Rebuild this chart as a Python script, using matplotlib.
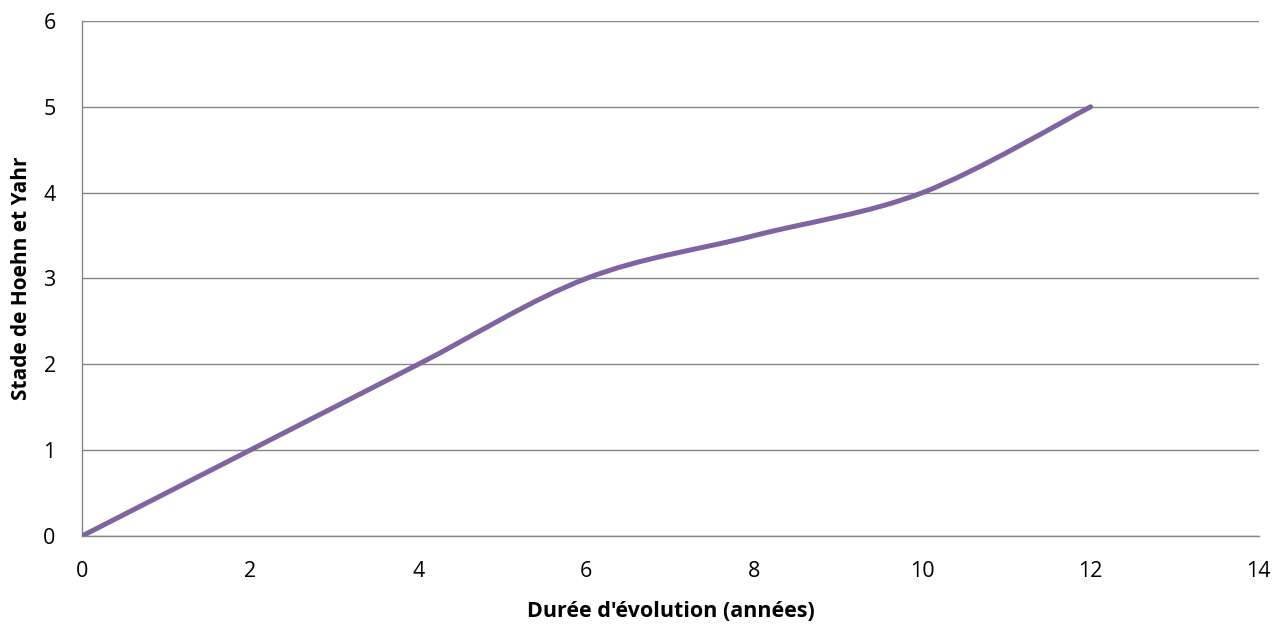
import numpy as np
import matplotlib
matplotlib.use("Agg")
import matplotlib.pyplot as plt
from matplotlib.path import Path
from matplotlib.patches import PathPatch

# data
duree = [0, 2, 4, 6, 8, 10, 12]
stade = [0, 1, 2, 3, 3.5, 4, 5]

plt.rcParams['font.family'] = ['Open Sans', 'DejaVu Sans']

fig = plt.figure(figsize=(12.86, 6.26), dpi=100)
ax = fig.add_axes([0.0638, 0.1438, 0.915, 0.8227])

# Excel style smoothed line: cubic bezier segments through the points
pts = np.column_stack([duree, stade]).astype(float)
n = len(pts)
verts = [pts[0]]
codes = [Path.MOVETO]
for i in range(n - 1):
    p0 = pts[i - 1] if i > 0 else pts[i]
    p1 = pts[i]
    p2 = pts[i + 1]
    p3 = pts[i + 2] if i + 2 < n else pts[i + 1]
    c1 = p1 + (p2 - p0) / 6
    c2 = p2 - (p3 - p1) / 6
    verts += [c1, c2, p2]
    codes += [Path.CURVE4] * 3
patch = PathPatch(Path(verts, codes), facecolor='none', edgecolor='#8064A2',
                  lw=3.6, capstyle='round', joinstyle='round', zorder=3)
ax.add_patch(patch)

ax.set_xlim(0, 14)
ax.set_ylim(0, 6)
ax.set_xticks(range(0, 15, 2))
ax.set_yticks(range(0, 7))
ax.grid(axis='y', color='#868686', lw=1)
ax.set_axisbelow(True)
for s in ['top', 'right']:
    ax.spines[s].set_visible(False)
for s in ['left', 'bottom']:
    ax.spines[s].set_color('#868686')
    ax.spines[s].set_linewidth(1)
ax.tick_params(length=0, labelsize=15.5)
ax.tick_params(axis='x', pad=18)
ax.tick_params(axis='y', pad=19)

fig.text(0.522, 0.0224, "Durée d'évolution (années)", fontsize=15.5,
         fontweight='bold', ha='center', va='center')
fig.text(0.0171, 0.555, "Stade de Hoehn et Yahr", fontsize=15,
         fontweight='bold', ha='center', va='center', rotation=90)

fig.savefig('out.png', dpi=100)
